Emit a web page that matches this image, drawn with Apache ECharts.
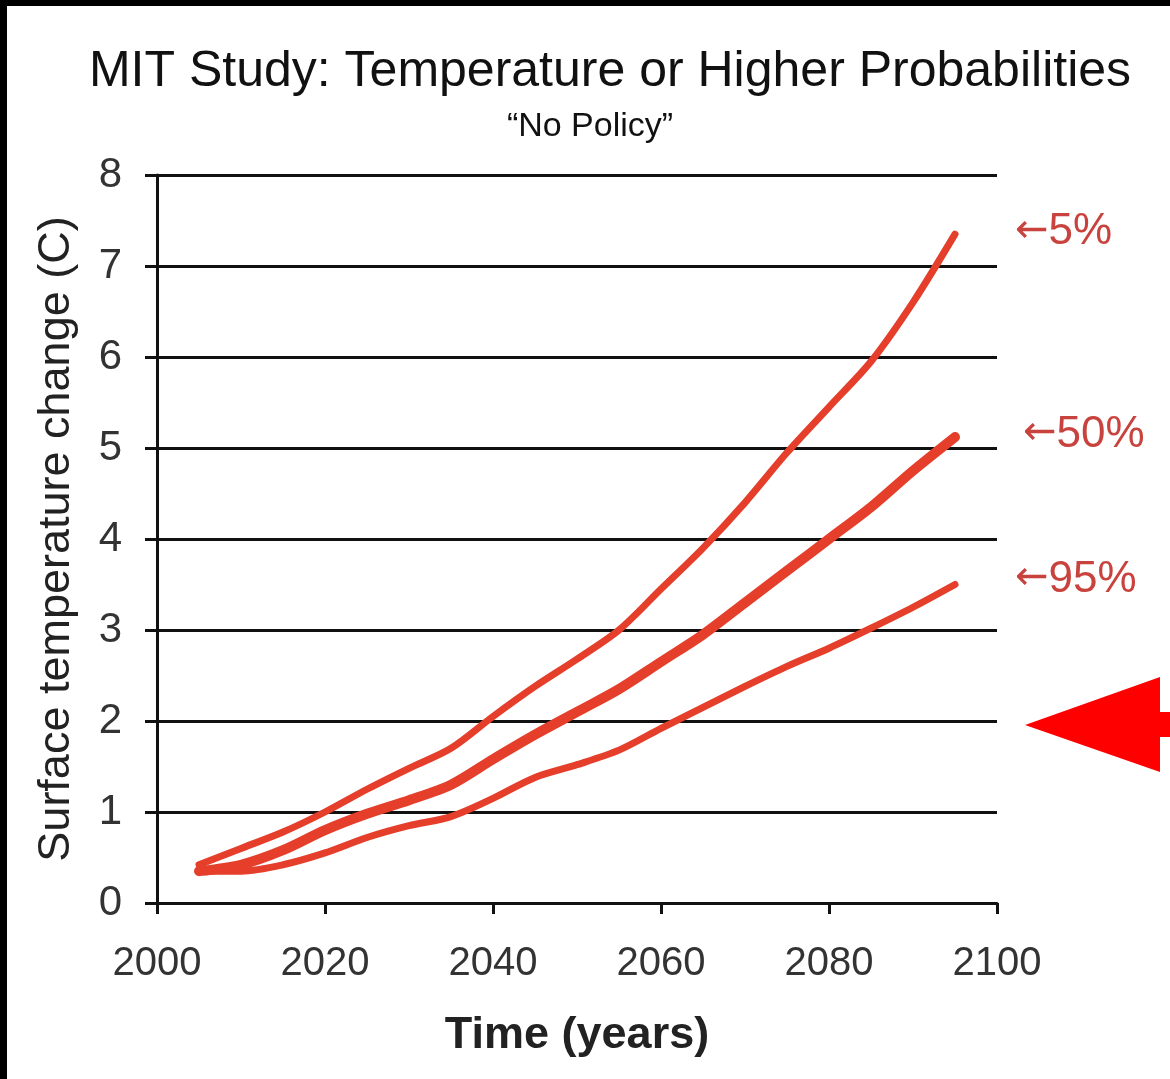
<!DOCTYPE html>
<html>
<head>
<meta charset="utf-8">
<script src="https://cdn.jsdelivr.net/npm/echarts@6/dist/echarts.min.js"></script>
<style>
html,body{margin:0;padding:0;background:#000;width:1170px;height:1079px;overflow:hidden;}
#chart{position:absolute;left:7px;top:6px;width:1163px;height:1073px;background:#fff;}
</style>
</head>
<body>
<div id="chart"></div>
<script>
const years = [2005,2010,2015,2020,2025,2030,2035,2040,2045,2050,2055,2060,2065,2070,2075,2080,2085,2090,2095];
const p5  = [0.42,0.60,0.78,1.00,1.25,1.48,1.70,2.05,2.38,2.68,3.00,3.45,3.90,4.40,4.95,5.45,5.95,6.60,7.35];
const p50 = [0.35,0.42,0.58,0.80,0.98,1.13,1.30,1.58,1.85,2.10,2.35,2.65,2.95,3.30,3.65,4.00,4.35,4.75,5.12];
const p95 = [0.35,0.35,0.42,0.55,0.72,0.85,0.95,1.15,1.38,1.52,1.68,1.92,2.15,2.38,2.60,2.80,3.02,3.25,3.50];
const labels = ['5%','50%','95%'];

const chart = echarts.init(document.getElementById('chart'));
const FONT = '"Liberation Sans", Arial, sans-serif';
const lineColor = '#e53e2a';
const labelColor = '#c8433e';

function mk(vals, width, label, dist, dy){
  return {
    type:'line', smooth:0.3, symbol:'none',
    data: years.map((y,i)=>[y, vals[i]]),
    lineStyle:{color:lineColor, width:width, cap:'round', join:'round'},
    endLabel:{show:true, formatter:'{a|\u2190}{b|' + label + '}', distance:dist, offset:[0,dy],
      rich:{
        a:{fontFamily:'"DejaVu Sans", sans-serif', fontSize:40, color:labelColor, padding:[0,0,2,0]},
        b:{fontFamily:FONT, fontSize:44, color:labelColor}
      }},
    z:3
  };
}

chart.setOption({
  animation:false,
  backgroundColor:'#fff',
  title:[
    {text:'MIT Study: Temperature or Higher Probabilities', left:598, top:36, textAlign:'center',
     textStyle:{fontFamily:FONT, fontSize:50, fontWeight:'normal', color:'#111'}},
    {text:'\u201cNo Policy\u201d', left:578, top:99, textAlign:'center',
     textStyle:{fontFamily:FONT, fontSize:34, fontWeight:'normal', color:'#111'}}
  ],
  grid:{left:150, right:173, top:169, bottom:176, containLabel:false},
  xAxis:{
    type:'value', min:2000, max:2100, interval:20,
    name:'Time (years)', nameLocation:'middle', nameGap:110,
    nameTextStyle:{fontFamily:FONT, fontSize:45, fontWeight:'bold', color:'#222'},
    axisLine:{show:true, lineStyle:{color:'#111', width:3}},
    axisTick:{show:true, length:11, lineStyle:{color:'#111', width:3}},
    axisLabel:{margin:41, fontFamily:FONT, fontSize:40, color:'#333', formatter:v=>String(v)},
    splitLine:{show:false}
  },
  yAxis:{
    type:'value', min:0, max:8, interval:1,
    name:'Surface temperature change (C)', nameLocation:'middle', nameGap:78,
    nameTextStyle:{fontFamily:FONT, fontSize:45, color:'#222'},
    axisLine:{show:true, lineStyle:{color:'#111', width:3}},
    axisTick:{show:true, length:12, lineStyle:{color:'#111', width:3}},
    axisLabel:{margin:35, fontFamily:FONT, fontSize:42, color:'#333'},
    splitLine:{show:true, lineStyle:{color:'#111', width:3}}
  },
  series:[
    mk(p5, 7, labels[0], 60, -2),
    mk(p50, 10, labels[1], 68, -2),
    mk(p95, 7, labels[2], 60, -5)
  ],
  graphic:[
    {type:'polygon', shape:{points:[[1018,719],[1153,671],[1153,706],[1163,706],[1163,731],[1153,731],[1153,766]]},
     style:{fill:'#ff0000'}, z:10}
  ]
});
</script>
</body>
</html>
